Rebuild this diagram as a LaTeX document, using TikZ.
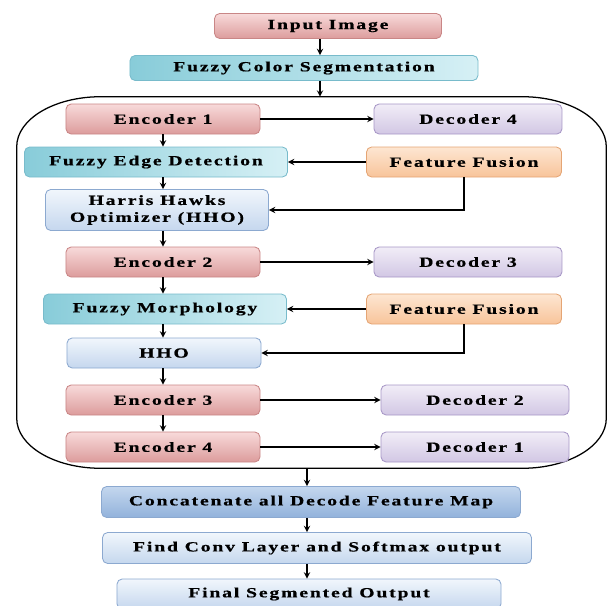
\documentclass[tikz,border=0pt]{standalone}
\usepackage{fontspec}
\setmainfont{Liberation Serif}[FakeStretch=1.4,LetterSpace=13,BoldFeatures={FakeBold=0.6}]
\usepackage{tikz}

\definecolor{encT}{HTML}{F8DADA}\definecolor{encB}{HTML}{DC9C9C}\definecolor{encD}{HTML}{C98686}
\definecolor{decT}{HTML}{F1EDF7}\definecolor{decB}{HTML}{D2C7E4}\definecolor{decD}{HTML}{A797C6}
\definecolor{fzL}{HTML}{88CCD9}\definecolor{fzR}{HTML}{D6F0F5}\definecolor{fzD}{HTML}{78BBCB}
\definecolor{ffT}{HTML}{FDE6D2}\definecolor{ffB}{HTML}{F8C49A}\definecolor{ffD}{HTML}{E5A574}
\definecolor{hhT}{HTML}{F1F6FC}\definecolor{hhB}{HTML}{C5D7EE}\definecolor{hhD}{HTML}{8CA9D0}
\definecolor{catT}{HTML}{C4D7EE}\definecolor{catB}{HTML}{92B2DB}

\begin{document}
\begin{tikzpicture}[x=0.25mm, y=-0.25mm,
		box/.style={rounded corners=1.3mm, inner sep=0pt, minimum height=7.5mm, line width=0.6pt, align=center, font=\fontsize{10}{12}\selectfont\bfseries},
		enc/.style={box, draw=encD, top color=encT, bottom color=encB},
		dec/.style={box, draw=decD, top color=decT, bottom color=decB},
		fz/.style={box, draw=fzD, left color=fzL, right color=fzR},
		ff/.style={box, draw=ffD, top color=ffT, bottom color=ffB},
		hh/.style={box, draw=hhD, top color=hhT, bottom color=hhB},
		arr/.style={-stealth, line width=1pt}]
			\useasboundingbox (0,0) rectangle (608,606);
			% outer frame with wide oval corners
			\node[minimum width=147.25mm, minimum height=92.75mm, inner sep=0pt] (un) at (311.5,282.5) {};
			\draw[line width=0.9pt] ([xshift=21mm]un.north west) -- ([xshift=-21mm]un.north east)
				arc[start angle=90, end angle=0, x radius=21mm, y radius=12.5mm] -- ([yshift=12.5mm]un.south east)
				arc[start angle=0, end angle=-90, x radius=21mm, y radius=12.5mm] -- ([xshift=21mm]un.south west)
				arc[start angle=270, end angle=180, x radius=21mm, y radius=12.5mm] -- ([yshift=-12.5mm]un.north west)
				arc[start angle=180, end angle=90, x radius=21mm, y radius=12.5mm] -- cycle;
			
			\node[enc, minimum width=56.75mm, minimum height=6.25mm] (in) at (328,26) {Input Image};
			\node[fz, minimum width=87mm, minimum height=6.25mm] (fcs) at (304,68) {Fuzzy Color Segmentation};
			\coordinate (a) at (320,0);
			\draw[arr] (in.south -| a) -- (fcs.north -| a);
			\draw[arr] (fcs.south -| a) -- (un.north -| a);
			
			% encoder / decoder pairs
			\foreach [evaluate=\i as \j using int(5-\i)] \i/\y/\dx in {1/119/468, 2/262/468, 3/400/475, 4/447/475} {
				\node[enc, minimum width=48.5mm] (e\i) at (163,\y) {Encoder \i};
				\node[dec, minimum width=47mm] (d\i) at (\dx,\y) {Decoder \j};
				\draw[arr] (e\i) -- (d\i);
			}
			
			\node[fz, minimum width=65.75mm] (fed) at (156,162) {Fuzzy Edge Detection};
			\node[hh, minimum width=55.75mm, minimum height=10.25mm] (h1) at (157,210) {Harris Hawks\\Optimizer (HHO)};
			\node[fz, minimum width=60.75mm] (fm) at (165,309) {Fuzzy Morphology};
			\node[hh, minimum width=48.5mm] (h2) at (164,353) {HHO};
			\node[ff, minimum width=48.75mm] (ff1) at (464,162) {Feature Fusion};
			\node[ff, minimum width=48.75mm] (ff2) at (464,309) {Feature Fusion};
			
			\foreach \p/\q in {e1/fed, fed/h1, h1/e2, e2/fm, fm/h2, h2/e3, e3/e4}
				\draw[arr] (\p.south -| e1) -- (\q.north -| e1);
			\draw[arr] (ff1) -- (fed);
			\draw[arr] (ff1.south) |- (h1);
			\draw[arr] (ff2) -- (fm);
			\draw[arr] (ff2.south) |- (h2);
			
			% output stage
			\node[box, draw=hhD, top color=catT, bottom color=catB, minimum width=104.75mm, minimum height=7.75mm] (cat) at (311,502) {Concatenate all Decode Feature Map};
			\node[hh, minimum width=107.25mm, minimum height=7.75mm] (cv) at (317,548) {Find Conv Layer and Softmax output};
			\node[hh, minimum width=96mm] (out) at (309,594) {Final Segmented Output};
			\coordinate (b) at (307,0);
			\draw[arr] (un.south -| b) -- (cat.north -| b);
			\draw[arr] (cat.south -| b) -- (cv.north -| b);
			\draw[arr] (cv.south -| b) -- (out.north -| b);
		\end{tikzpicture}
\end{document}
